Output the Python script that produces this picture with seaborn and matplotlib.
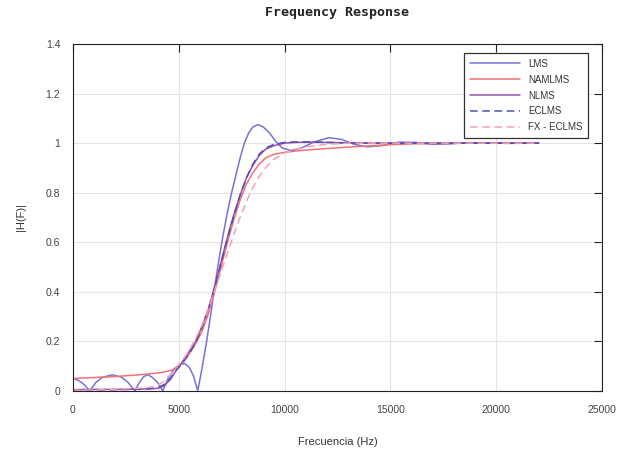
import numpy as np
import pandas as pd
import matplotlib
matplotlib.use("Agg")
import matplotlib.pyplot as plt
import seaborn as sns

# ---------------- data ----------------
freq_lms = [0, 200, 400, 600, 800, 1100, 1400, 1875, 2300, 2600, 2930, 3150, 3350, 3545,
            3750, 4000, 4250, 4500, 4800, 5050, 5290, 5500, 5700, 5900, 6100, 6300,
            6500, 6700, 6900, 7100, 7300, 7500, 7700, 7900, 8100, 8300, 8500, 8750,
            9000, 9300, 9600, 9900, 10300, 10800, 11400, 12100, 12700, 13300, 13900,
            14600, 15400, 16200, 17000, 17800, 18600, 19500, 20500, 22000]
lms = [0.050, 0.045, 0.035, 0.020, 0.000, 0.035, 0.055, 0.065, 0.055, 0.035, 0.000,
       0.035, 0.058, 0.065, 0.055, 0.035, 0.000, 0.050, 0.090, 0.107, 0.110, 0.095,
       0.060, 0.000, 0.090, 0.190, 0.300, 0.420, 0.530, 0.630, 0.720, 0.800, 0.870,
       0.940, 1.000, 1.040, 1.065, 1.075, 1.065, 1.040, 1.005, 0.980, 0.970, 0.980,
       1.005, 1.022, 1.015, 0.995, 0.985, 0.990, 1.004, 1.003, 0.995, 0.997, 1.002,
       1.001, 0.999, 1.000]

freq = [0, 1000, 2000, 3000, 3500, 4000, 4300, 4600, 4900, 5200, 5500, 5800, 6100,
        6400, 6700, 7000, 7300, 7600, 7900, 8200, 8500, 8800, 9100, 9500, 10000,
        10500, 11000, 12000, 13000, 14000, 15000, 16000, 17000, 18000, 19000, 20000,
        21000, 22000]
namlms = [0.050, 0.054, 0.058, 0.064, 0.068, 0.072, 0.076, 0.082, 0.092, 0.115,
          0.150, 0.190, 0.240, 0.310, 0.400, 0.500, 0.600, 0.690, 0.770, 0.835,
          0.880, 0.915, 0.940, 0.955, 0.963, 0.968, 0.972, 0.978, 0.984, 0.989,
          0.994, 0.997, 0.998, 0.999, 1.000, 1.000, 1.000, 1.000]
nlms = [0.005, 0.006, 0.006, 0.007, 0.008, 0.010, 0.020, 0.045, 0.085, 0.120,
        0.160, 0.200, 0.260, 0.330, 0.420, 0.520, 0.620, 0.710, 0.790, 0.860,
        0.910, 0.950, 0.975, 0.990, 1.000, 1.003, 1.004, 1.003, 1.001, 1.000,
        1.000, 1.000, 1.000, 1.000, 1.000, 1.000, 1.000, 1.000]
eclms = [0.004, 0.004, 0.005, 0.006, 0.008, 0.012, 0.025, 0.050, 0.085, 0.115,
         0.150, 0.195, 0.255, 0.330, 0.420, 0.515, 0.615, 0.705, 0.790, 0.860,
         0.915, 0.955, 0.980, 0.995, 1.003, 1.005, 1.005, 1.003, 1.001, 1.000,
         1.000, 1.000, 1.000, 1.000, 1.000, 1.000, 1.000, 1.000]
fxeclms = [0.003, 0.004, 0.006, 0.010, 0.013, 0.020, 0.040, 0.065, 0.095, 0.125,
           0.165, 0.210, 0.265, 0.330, 0.405, 0.480, 0.555, 0.630, 0.700, 0.765,
           0.820, 0.865, 0.900, 0.935, 0.960, 0.975, 0.985, 0.995, 1.000, 1.000,
           1.000, 1.000, 1.000, 1.000, 1.000, 1.000, 1.000, 1.000]

x_ticks = [0, 5000, 10000, 15000, 20000, 25000]
y_ticks = [0, 0.2, 0.4, 0.6, 0.8, 1.0, 1.2, 1.4]
y_tick_labels = ["0", "0.2", "0.4", "0.6", "0.8", "1", "1.2", "1.4"]

# ---------------- style ----------------
sns.set_theme(style="white")
plt.rcParams["font.family"] = ["Liberation Sans", "DejaVu Sans"]

fig = plt.figure(figsize=(6.17, 4.54), dpi=100)
ax = fig.add_axes([0.118, 0.139, 0.858, 0.764])

sns.lineplot(x=freq_lms, y=lms, ax=ax, color="#7474d8", lw=1.1, label="LMS")
sns.lineplot(x=freq, y=namlms, ax=ax, color="#f07272", lw=1.1, label="NAMLMS")
sns.lineplot(x=freq, y=nlms, ax=ax, color="#9b4fb0", lw=1.1, label="NLMS")
sns.lineplot(x=freq, y=eclms, ax=ax, color="#4f4fb8", lw=1.1, linestyle=(0, (5, 3)),
             label="ECLMS")
sns.lineplot(x=freq, y=fxeclms, ax=ax, color="#f5a0b4", lw=1.1, linestyle=(0, (5, 3)),
             label="FX - ECLMS")

ax.set_xlim(0, 25000)
ax.set_ylim(0, 1.4)
ax.set_xticks(x_ticks)
ax.set_xticklabels([str(t) for t in x_ticks])
ax.set_yticks(y_ticks)
ax.set_yticklabels(y_tick_labels)
ax.grid(True, color="#e4e4e4", lw=0.8)
ax.set_axisbelow(True)
for s in ax.spines.values():
    s.set_visible(True)
    s.set_color("#222222")
    s.set_linewidth(0.8)
ax.tick_params(axis="both", which="both", direction="in", length=6, width=0.8,
               color="#222222", top=True, right=True, labelsize=7.5,
               labelcolor="#444444", pad=10)
ax.tick_params(axis="y", pad=9)

ax.set_xlabel("Frecuencia (Hz)", fontsize=8, color="#333333", labelpad=16)
ax.set_ylabel("|H(F)|", fontsize=8, color="#333333", labelpad=14)
ax.set_title("Frequency Response", fontsize=9.5, fontweight="bold",
             family="DejaVu Sans Mono", color="#222222", pad=20)

leg = ax.legend(loc="upper right", bbox_to_anchor=(0.974, 0.974), fontsize=7,
                frameon=True, fancybox=False, edgecolor="#333333",
                handlelength=5.2, borderpad=0.6, labelspacing=0.6,
                handletextpad=0.8, borderaxespad=0.0)
leg.get_frame().set_linewidth(0.9)
leg.get_frame().set_facecolor("white")
leg.get_frame().set_alpha(1.0)
for t in leg.get_texts():
    t.set_color("#333333")

fig.savefig("out.png", dpi=100)
